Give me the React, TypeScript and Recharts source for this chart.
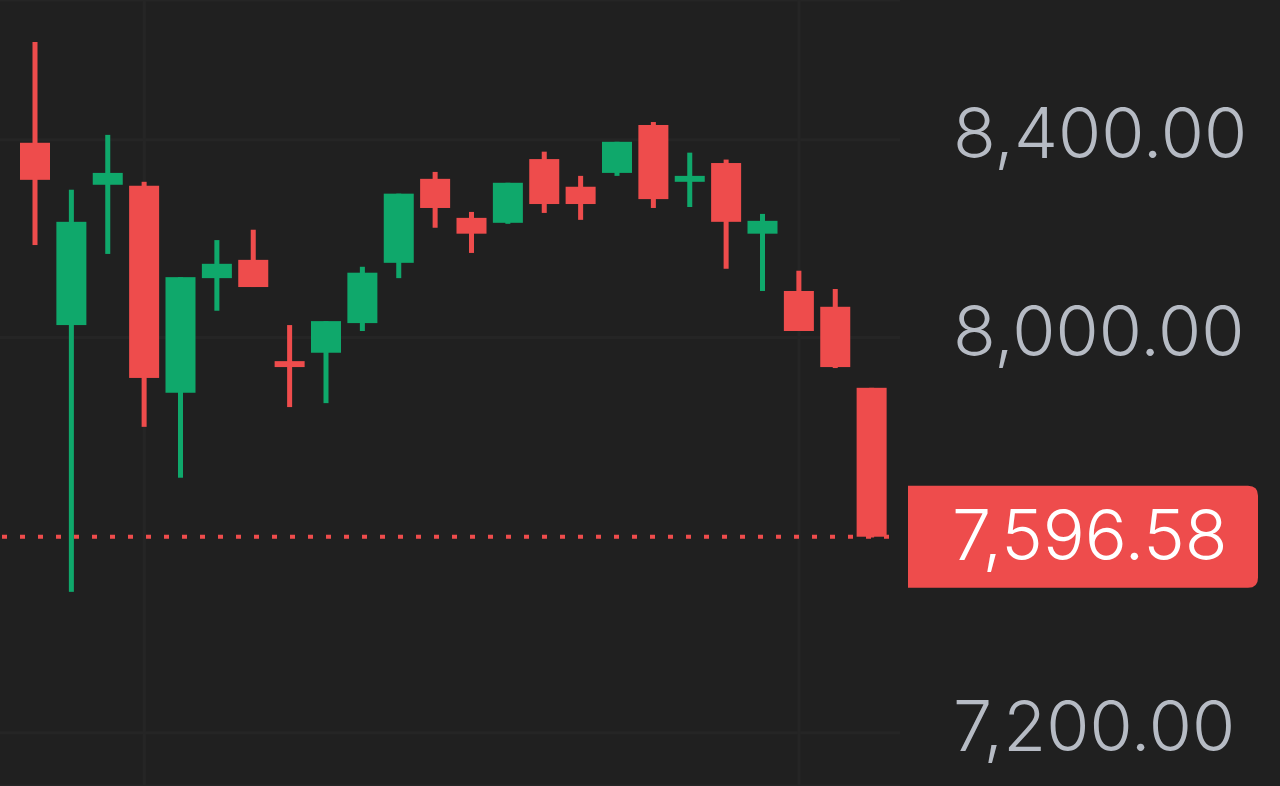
import React from 'react';
import {
  ComposedChart,
  Bar,
  XAxis,
  YAxis,
  CartesianGrid,
  ReferenceLine,
} from 'recharts';

// candle data (oldest -> newest)
const candles = ['1', '2', '3', '4', '5', '6', '7', '8', '9', '10', '11', '12', '13', '14', '15', '16', '17', '18', '19', '20', '21', '22', '23', '24'];
const opens = [8394, 8025, 8309, 8307, 7888, 8120, 8157, 7952, 7969, 8029, 8151, 8321, 8242, 8232, 8361, 8305, 8333, 8430, 8315, 8353, 8210, 8094, 8062, 7898];
const highs = [8598, 8299, 8410, 8315, 8122, 8197, 8218, 8025, 8033, 8143, 8291, 8335, 8254, 8313, 8376, 8327, 8396, 8436, 8374, 8360, 8250, 8135, 8098, 7898];
const lows = [8187, 7485, 8169, 7819, 7716, 8054, 8102, 7859, 7867, 8013, 8120, 8222, 8171, 8230, 8252, 8238, 8327, 8262, 8264, 8139, 8094, 8013, 7938, 7595];
const closes = [8319, 8234, 8333, 7918, 8122, 8149, 8102, 7940, 8033, 8131, 8291, 8262, 8210, 8313, 8270, 8270, 8396, 8280, 8327, 8234, 8236, 8013, 7940, 7596.58];

const yTicks = [7200, 8000, 8400];
const gridCandles = ['4', '22'];
const lastPrice = 7596.58;

const UP = '#0fa86b';
const DOWN = '#ee4c4c';
const BG = '#202020';
const GRID = '#252525';
const LABEL = '#b6bbc4';
const FONT = 'Inter, "Noto Sans", sans-serif';
const TEXT_X = 953;
const FONT_SIZE = 70;

const rows = candles.map((name, i) => ({
  name,
  open: opens[i],
  high: highs[i],
  low: lows[i],
  close: closes[i],
}));

const fmt = (v: number) =>
  v.toLocaleString('en-US', { minimumFractionDigits: 2, maximumFractionDigits: 2 });

// draws wick + body inside the [low, high] range bar
const Candle = (props: any) => {
  const { x, y, width, height, payload } = props;
  const { open, close, high, low } = payload;
  const top = height < 0 ? y + height : y;
  const h = Math.abs(height);
  const perUnit = h / (high - low || 1);
  const cx = x + width / 2;
  const bodyTop = top + (high - Math.max(open, close)) * perUnit;
  const bodyBottom = top + (high - Math.min(open, close)) * perUnit;
  const color = close >= open ? UP : DOWN;
  return (
    <g>
      <rect x={cx - 2.5} y={top} width={5} height={Math.max(h, 1)} fill={color} />
      <rect x={x} y={bodyTop} width={width} height={Math.max(bodyBottom - bodyTop, 4)} fill={color} />
    </g>
  );
};

const PriceTick = (props: any) => {
  const { y, payload } = props;
  return (
    <text
      x={TEXT_X}
      y={y - 7}
      textAnchor="start"
      dominantBaseline="central"
      fill={LABEL}
      fontSize={FONT_SIZE}
      fontWeight={300}
      fontFamily={FONT}
    >
      {fmt(payload.value)}
    </text>
  );
};

const PriceTag = (props: any) => {
  const { viewBox } = props;
  const left = viewBox.x + viewBox.width + 8;
  const cy = viewBox.y;
  const w = 350;
  const h = 102;
  const r = 10;
  const t = cy - h / 2;
  const d = `M${left},${t} H${left + w - r} Q${left + w},${t} ${left + w},${t + r} V${t + h - r} Q${left + w},${t + h} ${left + w - r},${t + h} H${left} Z`;
  return (
    <g>
      <path d={d} fill={DOWN} />
      <text
        x={TEXT_X - 1}
        y={cy - 2}
        textAnchor="start"
        dominantBaseline="central"
        fill="#ffffff"
        fontSize={FONT_SIZE}
        fontWeight={300}
        fontFamily={FONT}
      >
        {fmt(lastPrice)}
      </text>
    </g>
  );
};

export default function App() {
  return (
    <div style={{ position: 'absolute', left: 0, top: 0, width: 1280, height: 786, background: BG }}>
      <ComposedChart
        width={1280}
        height={786}
        data={rows}
        margin={{ top: 0, right: 0, bottom: 0, left: 0 }}
        barCategoryGap={0}
      >
        <CartesianGrid stroke={GRID} strokeWidth={3} vertical={false} />
        <CartesianGrid stroke={GRID} strokeWidth={3} horizontal={false} verticalValues={gridCandles} />
        <XAxis dataKey="name" hide padding={{ left: 17, right: 10 }} />
        <YAxis
          orientation="right"
          width={380}
          domain={[7092, 8683]}
          ticks={yTicks}
          allowDataOverflow
          axisLine={false}
          tickLine={false}
          tick={<PriceTick />}
        />
        <ReferenceLine
          y={lastPrice}
          stroke={DOWN}
          strokeWidth={4}
          strokeDasharray="5 13"
          strokeDashoffset={-11}
          label={<PriceTag />}
        />
        <Bar
          dataKey={(d: any) => [d.low, d.high]}
          barSize={30}
          shape={<Candle />}
          isAnimationActive={false}
        />
      </ComposedChart>
    </div>
  );
}
